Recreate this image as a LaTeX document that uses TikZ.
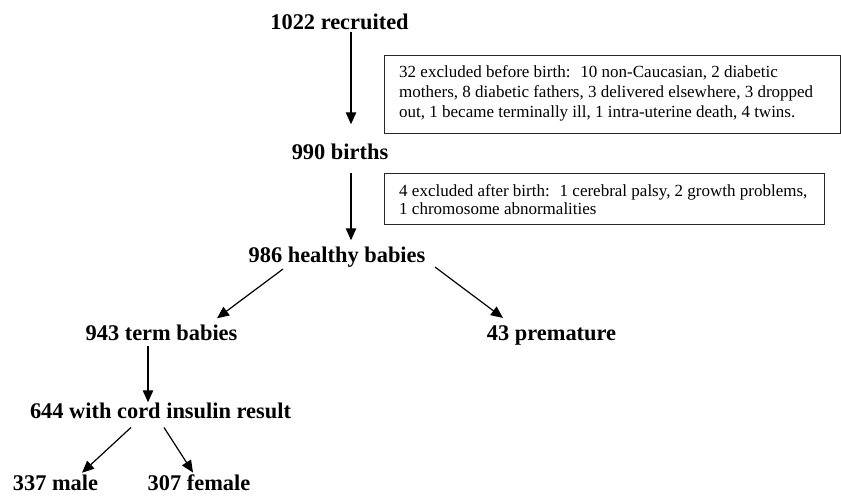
\documentclass[tikz,border=0pt]{standalone}
\usepackage{fontspec}
\setmainfont{Liberation Serif}
\usetikzlibrary{arrows.meta,calc}
\begin{document}
\begin{tikzpicture}[x=1pt,y=-1pt,
  lab/.style={font=\fontsize{22.4}{26}\selectfont\bfseries, inner sep=0pt, anchor=base},
  arr/.style={-{Triangle[length=12pt,width=10.5pt]}, line width=1.2pt},
  exbox/.style={draw=black!85, line width=1.4pt, anchor=north west, inner sep=0pt},
  extext/.style={anchor=west, inner sep=0pt, align=left}]
\useasboundingbox (0,0) rectangle (841,496);
% main labels
\node[lab] (r) at (339.5,29) {1022 recruited};
\node[lab] (b) at (340,159) {990 births};
\node[lab] (h) at (337,262) {986 healthy babies};
\node[lab] (t) at (161.5,340) {943 term babies};
\node[lab] (p) at (551.5,340) {43 premature};
\node[lab] (c) at (160.5,418) {644 with cord insulin result};
\node[lab] (m) at (55.5,490.5) {337 male};
\node[lab] (f) at (199,490.5) {307 female};
% exclusion boxes
\node[exbox, minimum width=456pt, minimum height=78pt] (bx1) at (384,55) {};
\node[extext, font=\fontsize{17}{20}\selectfont] (tx1) at (399,93)
  {32 excluded before birth:~ 10 non-Caucasian, 2 diabetic\\
   mothers, 8 diabetic fathers, 3 delivered elsewhere, 3 dropped\\
   out, 1 became terminally ill, 1 intra-uterine death, 4 twins.};
\node[exbox, minimum width=440pt, minimum height=51pt] (bx2) at (384,173) {};
\node[extext, font=\fontsize{17}{18}\selectfont] (tx2) at (399,200)
  {4 excluded after birth:~ 1 cerebral palsy, 2 growth problems,\\
   1 chromosome abnormalities};
% connectors
\coordinate (ax) at (351,0);
\draw[arr] ($(r.south -| ax)+(0,3)$) -- ($(b.north -| ax)+(0,-19)$);
\draw[arr] ($(b.south -| ax)+(0,14)$) -- ($(h.north -| ax)+(0,-6)$);
\draw[arr] ($(h.south)+(-54,2)$) -- ($(t.north)+(55.5,-6)$);
\draw[arr] ($(h.south)+(98,0)$) -- ($(p.north)+(-48.5,-7)$);
\draw[arr] ($(t.south)+(-13.5,6)$) -- ($(c.north)+(-12.5,0)$);
\draw[arr] ($(c.south)+(-29.5,9)$) -- ($(m.north)+(26.5,-2)$);
\draw[arr] ($(c.south)+(3.5,9)$) -- ($(f.north)+(-6,-2)$);
\end{tikzpicture}
\end{document}
